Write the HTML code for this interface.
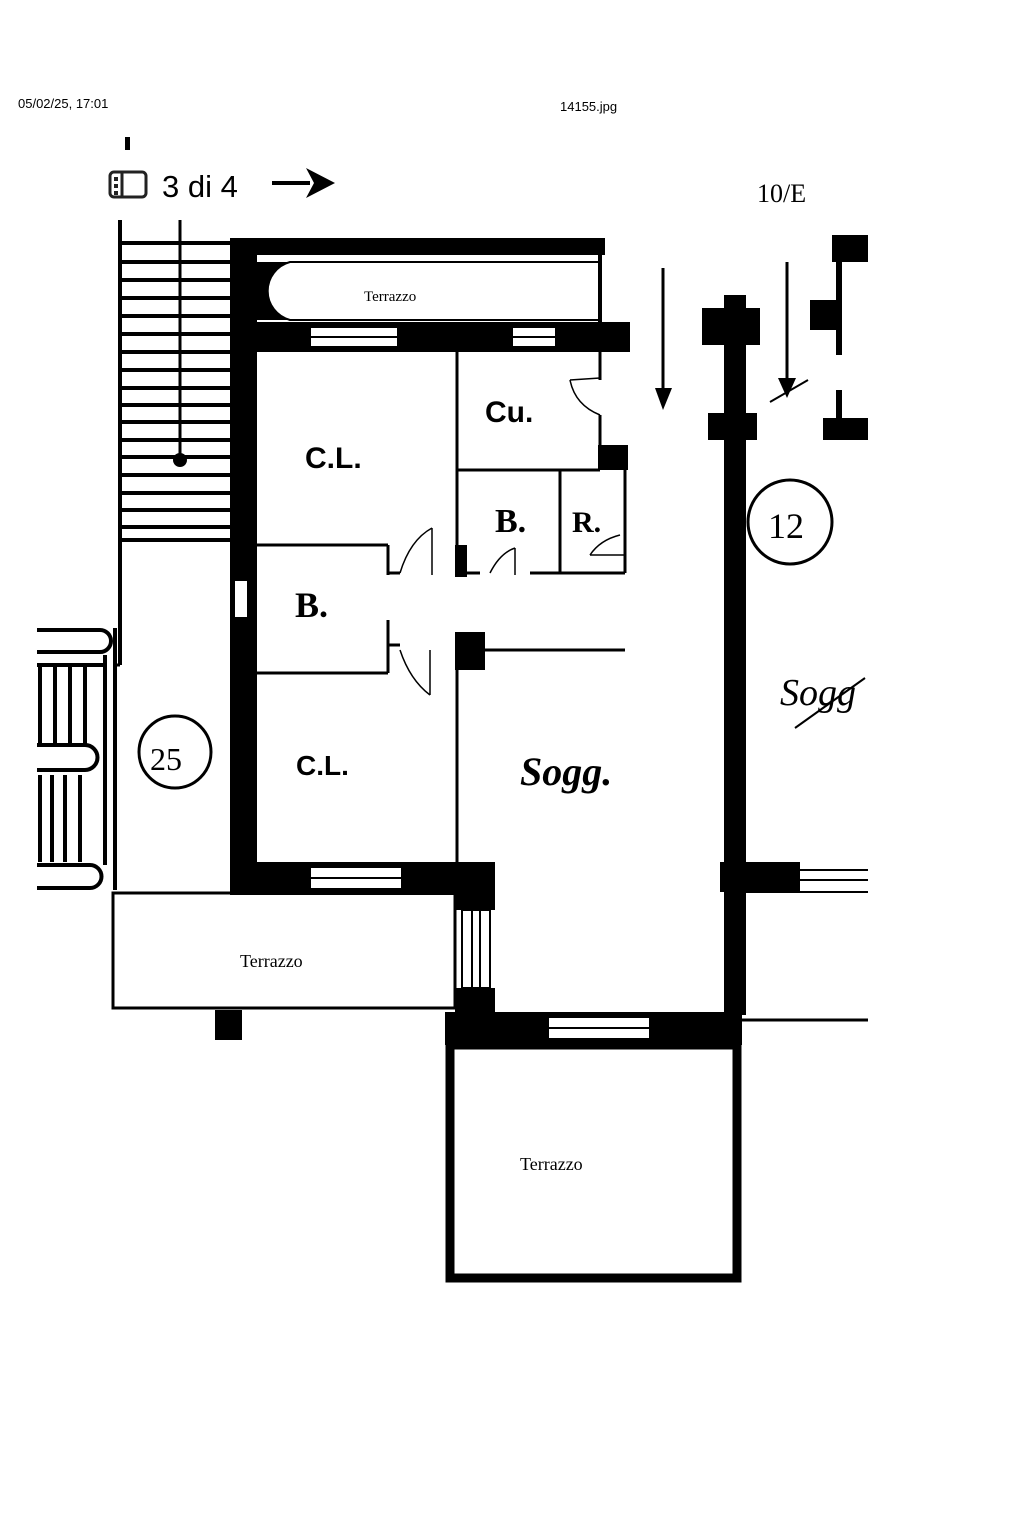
<!DOCTYPE html>
<html><head><meta charset="utf-8"><style>
html,body{margin:0;padding:0;background:#fff;}
svg{display:block}
text{font-family:"Liberation Sans",sans-serif;fill:#000}
.h{font-family:"Liberation Serif",serif}
</style></head><body>
<svg width="1023" height="1535" viewBox="0 0 1023 1535" xmlns="http://www.w3.org/2000/svg">
<rect width="1023" height="1535" fill="#fff"/>
<text x="18" y="108" font-size="13">05/02/25, 17:01</text>
<text x="560" y="111" font-size="13">14155.jpg</text>
<rect x="125" y="137" width="5" height="13" fill="#000"/>
<rect x="110" y="172" width="36" height="25" rx="4" fill="none" stroke="#222" stroke-width="3"/>
<line x1="122" y1="172" x2="122" y2="197" stroke="#222" stroke-width="3"/>
<rect x="114" y="177" width="4" height="4" fill="#222"/><rect x="114" y="184" width="4" height="4" fill="#222"/><rect x="114" y="191" width="4" height="4" fill="#222"/>
<text x="162" y="197" font-size="31" fill="#333">3 di 4</text>
<line x1="272" y1="183" x2="310" y2="183" stroke="#000" stroke-width="4"/>
<polygon points="306,168 335,183 306,198 314,183" fill="#000"/>

<g fill="none" stroke="#000">
<line x1="120" y1="220" x2="120" y2="665" stroke-width="4"/>
<line x1="180" y1="220" x2="180" y2="460" stroke-width="3"/>
<g stroke-width="4">
<line x1="122" y1="243" x2="232" y2="243"/><line x1="122" y1="262" x2="232" y2="262"/>
<line x1="122" y1="280" x2="232" y2="280"/><line x1="122" y1="298" x2="232" y2="298"/>
<line x1="122" y1="316" x2="232" y2="316"/><line x1="122" y1="334" x2="232" y2="334"/>
<line x1="122" y1="352" x2="232" y2="352"/><line x1="122" y1="370" x2="232" y2="370"/>
<line x1="122" y1="388" x2="232" y2="388"/><line x1="122" y1="405" x2="232" y2="405"/>
<line x1="122" y1="422" x2="232" y2="422"/><line x1="122" y1="440" x2="232" y2="440"/>
<line x1="122" y1="457" x2="232" y2="457"/><line x1="122" y1="475" x2="232" y2="475"/>
<line x1="122" y1="493" x2="232" y2="493"/><line x1="122" y1="510" x2="232" y2="510"/>
<line x1="122" y1="527" x2="232" y2="527"/><line x1="122" y1="540" x2="232" y2="540"/>
</g>
</g>
<circle cx="180" cy="460" r="7" fill="#000"/>
<line x1="120" y1="665" x2="115" y2="665" stroke="#000" stroke-width="3"/>
<line x1="115" y1="628" x2="115" y2="890" stroke="#000" stroke-width="4"/>

<g stroke="#000" fill="none" stroke-width="4">
<path d="M37 630 H100 A8 8 0 0 1 100 652 H37"/>
<path d="M37 745 H85 A7 7 0 0 1 85 770 H37"/>
<path d="M37 865 H90 A8 8 0 0 1 90 888 H37"/>
<line x1="40" y1="665" x2="40" y2="745"/><line x1="55" y1="665" x2="55" y2="745"/><line x1="70" y1="665" x2="70" y2="745"/><line x1="85" y1="665" x2="85" y2="745"/><line x1="105" y1="655" x2="105" y2="865"/>
<line x1="40" y1="775" x2="40" y2="862"/><line x1="52" y1="775" x2="52" y2="862"/><line x1="65" y1="775" x2="65" y2="862"/><line x1="80" y1="775" x2="80" y2="862"/>
<line x1="37" y1="665" x2="105" y2="665"/>
</g>
<ellipse cx="175" cy="752" rx="36" ry="36" fill="none" stroke="#000" stroke-width="3"/>
<text x="150" y="770" font-size="32" class="h">25</text>

<g fill="#000">
<rect x="230" y="238" width="27" height="655"/>
<rect x="237" y="238" width="368" height="17"/>
<rect x="237" y="322" width="393" height="30"/>
<rect x="230" y="862" width="265" height="33"/>
<rect x="455" y="862" width="40" height="48"/>
<rect x="455" y="988" width="40" height="30"/>
<rect x="445" y="1012" width="297" height="33"/>
<rect x="724" y="295" width="22" height="720"/>
<rect x="702" y="308" width="58" height="37"/>
<rect x="708" y="413" width="49" height="27"/>
<rect x="598" y="445" width="30" height="25"/>
<rect x="455" y="632" width="30" height="38"/>
<rect x="455" y="545" width="12" height="32"/>
<rect x="215" y="1010" width="27" height="30"/>
<rect x="720" y="862" width="80" height="30"/>
<rect x="832" y="235" width="36" height="27"/>
<rect x="836" y="235" width="6" height="120"/>
<rect x="810" y="300" width="30" height="30"/>
<rect x="836" y="390" width="6" height="40"/>
<rect x="823" y="418" width="45" height="22"/>
</g>
<g fill="#fff" stroke="#000" stroke-width="2">
<rect x="310" y="327" width="88" height="20"/>
<rect x="512" y="327" width="44" height="20"/>
<rect x="310" y="867" width="92" height="22"/>
<rect x="462" y="910" width="28" height="78"/>
<rect x="548" y="1017" width="102" height="22"/>
<rect x="234" y="580" width="14" height="38"/>
</g>
<g stroke="#000" stroke-width="2">
<line x1="310" y1="337" x2="398" y2="337"/><line x1="512" y1="337" x2="556" y2="337"/>
<line x1="310" y1="878" x2="402" y2="878"/><line x1="472" y1="910" x2="472" y2="988"/><line x1="480" y1="910" x2="480" y2="988"/>
<line x1="548" y1="1028" x2="650" y2="1028"/>
</g>

<line x1="600" y1="255" x2="600" y2="325" stroke="#000" stroke-width="4"/>
<path d="M600 262 H290 A30 30 0 0 0 290 320 H600" fill="none" stroke="#000" stroke-width="2"/>
<path d="M257 262 H290 A30 30 0 0 0 290 320 H257 Z" fill="#000"/>
<text x="364" y="301" font-size="15" class="h">Terrazzo</text>

<g stroke="#000" stroke-width="3" fill="none">
<line x1="457" y1="352" x2="457" y2="575"/>
<line x1="457" y1="470" x2="600" y2="470"/>
<line x1="600" y1="352" x2="600" y2="380"/><line x1="600" y1="415" x2="600" y2="470"/>
<line x1="560" y1="470" x2="560" y2="573"/>
<line x1="625" y1="470" x2="625" y2="573"/>
<line x1="530" y1="573" x2="625" y2="573"/>
<line x1="467" y1="573" x2="480" y2="573"/>
<line x1="255" y1="545" x2="388" y2="545"/>
<line x1="388" y1="545" x2="388" y2="575"/><line x1="388" y1="620" x2="388" y2="673"/>
<line x1="255" y1="673" x2="388" y2="673"/>
<line x1="485" y1="650" x2="625" y2="650"/>
<line x1="457" y1="670" x2="457" y2="865"/>
<line x1="388" y1="573" x2="400" y2="573"/><line x1="388" y1="645" x2="400" y2="645"/>
</g>
<g stroke="#000" stroke-width="1.5" fill="none">
<path d="M570 380 Q575 405 600 415"/><line x1="570" y1="380" x2="600" y2="378"/>
<path d="M400 573 Q410 540 432 528"/><line x1="432" y1="528" x2="432" y2="575"/>
<path d="M490 573 Q500 553 515 548"/><line x1="515" y1="548" x2="515" y2="575"/>
<path d="M590 555 Q600 540 620 535"/><line x1="590" y1="555" x2="625" y2="555"/>
<path d="M400 650 Q410 680 430 695"/><line x1="430" y1="650" x2="430" y2="695"/>
</g>

<rect x="113" y="893" width="342" height="115" fill="none" stroke="#000" stroke-width="3"/>
<rect x="450" y="1045" width="287" height="233" fill="none" stroke="#000" stroke-width="9"/>
<line x1="742" y1="1020" x2="868" y2="1020" stroke="#000" stroke-width="3"/>
<line x1="800" y1="870" x2="868" y2="870" stroke="#000" stroke-width="2"/>
<line x1="800" y1="880" x2="868" y2="880" stroke="#000" stroke-width="2"/>
<line x1="740" y1="892" x2="868" y2="892" stroke="#000" stroke-width="2"/>
<line x1="735" y1="895" x2="735" y2="1015" stroke="#000" stroke-width="2"/>

<line x1="663" y1="268" x2="663" y2="395" stroke="#000" stroke-width="3"/>
<polygon points="655,388 672,388 663,410" fill="#000"/>
<line x1="787" y1="262" x2="787" y2="385" stroke="#000" stroke-width="3"/>
<polygon points="778,378 796,378 787,398" fill="#000"/>
<line x1="770" y1="402" x2="808" y2="380" stroke="#000" stroke-width="2"/>

<circle cx="790" cy="522" r="42" fill="none" stroke="#000" stroke-width="3"/>
<text x="768" y="538" font-size="36" class="h">12</text>
<text x="780" y="705" font-size="38" class="h" font-style="italic">Sogg</text>
<line x1="795" y1="728" x2="865" y2="678" stroke="#000" stroke-width="2"/>

<text x="305" y="468" font-size="30" font-weight="bold">C.L.</text>
<text x="485" y="422" font-size="30" font-weight="bold">Cu.</text>
<text x="495" y="532" font-size="34" class="h" font-weight="bold">B.</text>
<text x="572" y="532" font-size="30" class="h" font-weight="bold">R.</text>
<text x="295" y="617" font-size="36" class="h" font-weight="bold">B.</text>
<text x="296" y="775" font-size="28" font-weight="bold">C.L.</text>
<text x="520" y="785" font-size="40" class="h" font-style="italic" font-weight="bold">Sogg.</text>
<text x="240" y="967" font-size="18" class="h">Terrazzo</text>
<text x="520" y="1170" font-size="18" class="h">Terrazzo</text>
<text x="757" y="202" font-size="26" fill="#888" class="h">10/E</text>
</svg>
</body></html>
